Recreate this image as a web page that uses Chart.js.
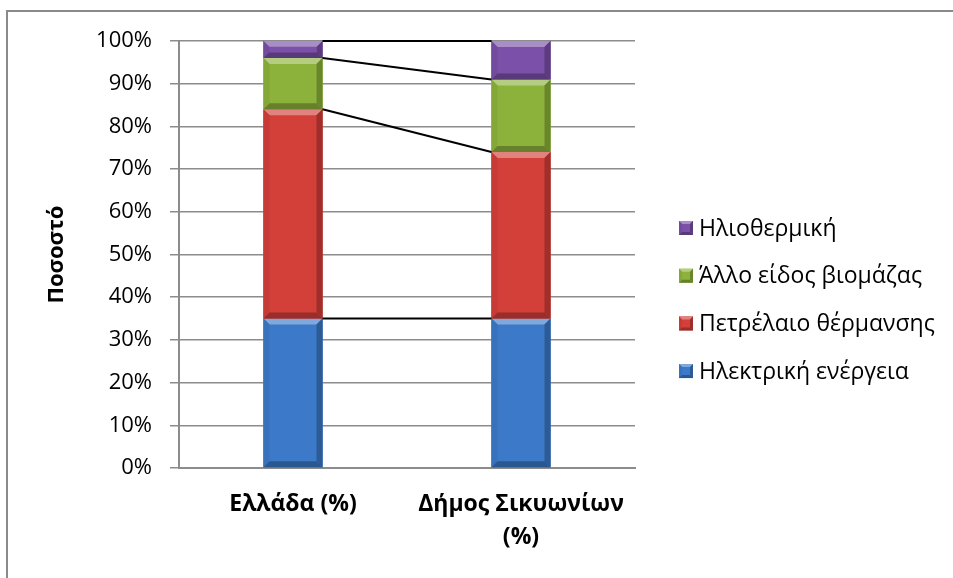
<!DOCTYPE html>
<html>
<head>
<meta charset="utf-8">
<script src="https://cdn.jsdelivr.net/npm/chart.js@4/dist/chart.umd.min.js"></script>
<style>
  html, body { margin: 0; padding: 0; background: #ffffff; }
  #wrap { width: 953px; height: 578px; position: relative; }
</style>
</head>
<body>
<div id="wrap"><canvas id="c" width="953" height="578"></canvas></div>
<script>
// Heating energy sources: Greece vs. Municipality of Sikyonion (share, %)
const categories = [['Ελλάδα (%)'], ['Δήμος Σικυωνίων', '(%)']];
const seriesNames = ['Ηλεκτρική ενέργεια', 'Πετρέλαιο θέρμανσης', 'Άλλο είδος βιομάζας', 'Ηλιοθερμική'];
const electricity = [35, 35];
const heatingOil = [49, 39];
const otherBiomass = [12, 17];
const solarThermal = [4, 9];
const yTickValues = [0, 10, 20, 30, 40, 50, 60, 70, 80, 90, 100];

const seriesColors = ['#3c79c8', '#d33f39', '#8db23c', '#7a50a8'];
const FONT = '"Open Sans", "Noto Sans", "DejaVu Sans", sans-serif';
const GRID = '#8c8c8c';

function shade(hex, amt) {
  // amt > 0 lightens toward white, amt < 0 darkens toward black
  const n = parseInt(hex.slice(1), 16);
  let r = (n >> 16) & 255, g = (n >> 8) & 255, b = n & 255;
  const f = (c) => amt >= 0 ? Math.round(c + (255 - c) * amt) : Math.round(c * (1 + amt));
  return `rgb(${f(r)},${f(g)},${f(b)})`;
}

function bevelRect(ctx, l, t, r, btm, color, size) {
  const b = Math.min(size, (btm - t) / 3, (r - l) / 3);
  const poly = (pts, fill) => {
    ctx.beginPath();
    ctx.moveTo(pts[0][0], pts[0][1]);
    for (let i = 1; i < pts.length; i++) ctx.lineTo(pts[i][0], pts[i][1]);
    ctx.closePath();
    ctx.fillStyle = fill;
    ctx.fill();
  };
  poly([[l, t], [r, t], [r, btm], [l, btm]], color);
  poly([[l, t], [r, t], [r - b, t + b], [l + b, t + b]], shade(color, 0.35));
  poly([[l, t], [l + b, t + b], [l + b, btm - b], [l, btm]], shade(color, -0.06));
  poly([[r, t], [r, btm], [r - b, btm - b], [r - b, t + b]], shade(color, -0.25));
  poly([[l, btm], [l + b, btm - b], [r - b, btm - b], [r, btm]], shade(color, -0.28));
}

const bevelBars = {
  id: 'bevelBars',
  afterDatasetsDraw(chart) {
    const ctx = chart.ctx;
    ctx.save();
    chart.data.datasets.forEach((ds, di) => {
      const meta = chart.getDatasetMeta(di);
      meta.data.forEach((el) => {
        const p = el.getProps(['x', 'y', 'base', 'width'], true);
        const l = p.x - p.width / 2, r = p.x + p.width / 2;
        const t = Math.min(p.y, p.base), btm = Math.max(p.y, p.base);
        bevelRect(ctx, l, t, r, btm, ds.backgroundColor, 6);
      });
    });
    ctx.restore();
  }
};

// Series lines joining the top of each stacked segment between the two bars
const seriesLines = {
  id: 'seriesLines',
  afterDatasetsDraw(chart) {
    const ctx = chart.ctx;
    ctx.save();
    ctx.strokeStyle = '#000000';
    ctx.lineWidth = 2;
    chart.data.datasets.forEach((ds, di) => {
      const meta = chart.getDatasetMeta(di);
      for (let i = 0; i < meta.data.length - 1; i++) {
        const a = meta.data[i].getProps(['x', 'y', 'width'], true);
        const b = meta.data[i + 1].getProps(['x', 'y', 'width'], true);
        ctx.beginPath();
        ctx.moveTo(a.x + a.width / 2, a.y);
        ctx.lineTo(b.x - b.width / 2, b.y);
        ctx.stroke();
      }
    });
    ctx.restore();
  }
};

const sideLegend = {
  id: 'sideLegend',
  afterDraw(chart) {
    const ctx = chart.ctx;
    const ds = chart.data.datasets;
    const x0 = 679, y0 = 228, gap = 47.7, box = 14;
    ctx.save();
    ctx.font = '23px ' + FONT;
    ctx.textBaseline = 'middle';
    ctx.textAlign = 'left';
    for (let k = 0; k < ds.length; k++) {
      const d = ds[ds.length - 1 - k];
      const cy = y0 + k * gap;
      bevelRect(ctx, x0, cy - box / 2, x0 + box, cy + box / 2, d.backgroundColor, 3);
      ctx.fillStyle = '#000000';
      ctx.fillText(d.label, x0 + 20, cy + 1);
    }
    ctx.restore();
  }
};

const frame = {
  id: 'frame',
  beforeDraw(chart) {
    const ctx = chart.ctx;
    ctx.save();
    ctx.fillStyle = '#ffffff';
    ctx.fillRect(0, 0, chart.width, chart.height);
    ctx.restore();
  },
  afterDraw(chart) {
    const ctx = chart.ctx;
    ctx.save();
    ctx.strokeStyle = '#8a8a8a';
    ctx.lineWidth = 2;
    ctx.beginPath();
    ctx.moveTo(7, chart.height);
    ctx.lineTo(7, 11);
    ctx.lineTo(chart.width, 11);
    ctx.stroke();
    ctx.restore();
  }
};

const values = [electricity, heatingOil, otherBiomass, solarThermal];

new Chart(document.getElementById('c'), {
  type: 'bar',
  data: {
    labels: categories,
    datasets: values.map((v, i) => ({
      label: seriesNames[i],
      data: v,
      backgroundColor: seriesColors[i],
      borderWidth: 0
    }))
  },
  options: {
    responsive: false,
    animation: false,
    devicePixelRatio: 1,
    layout: { padding: { left: 44, right: 318, top: 41, bottom: 0 } },
    datasets: { bar: { categoryPercentage: 1, barPercentage: 0.259 } },
    plugins: {
      legend: { display: false },
      tooltip: { enabled: false }
    },
    scales: {
      x: {
        stacked: true,
        grid: { display: false, drawTicks: false },
        border: { display: true, color: GRID, width: 2 },
        ticks: {
          color: '#000000',
          padding: 20,
          maxRotation: 0,
          autoSkip: false,
          font: { family: FONT, size: 23, weight: 'bold', lineHeight: 1.43 }
        },
        afterFit(scale) { scale.height = 110; }
      },
      y: {
        stacked: true,
        min: 0,
        max: 100,
        afterBuildTicks(scale) { scale.ticks = yTickValues.map(v => ({ value: v })); },
        grid: { color: GRID, lineWidth: 1.5, tickLength: 9, drawTicks: true },
        border: { display: true, color: GRID, width: 2 },
        ticks: {
          color: '#000000',
          padding: 18,
          font: { family: FONT, size: 22 },
          callback: (v) => v + '%'
        },
        title: {
          display: true,
          text: 'Ποσοστό',
          color: '#000000',
          padding: { top: 0, bottom: 0 },
          font: { family: FONT, size: 22, weight: 'bold' }
        },
        afterFit(scale) { scale.width = 135; }
      }
    }
  },
  plugins: [frame, bevelBars, seriesLines, sideLegend]
});
</script>
</body>
</html>
